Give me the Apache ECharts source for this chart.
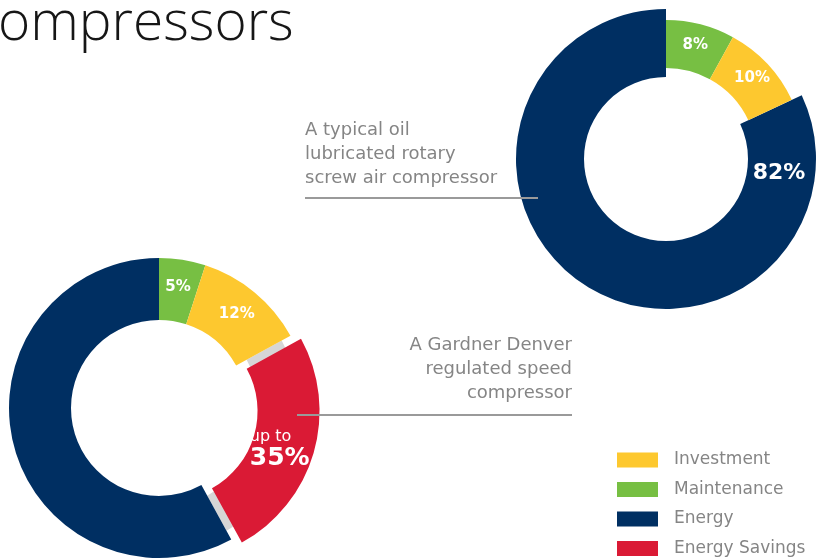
<!DOCTYPE html>
<html>
<head>
<meta charset="utf-8">
<style>
  html, body { margin: 0; padding: 0; background: #fff; }
  #chart { width: 825px; height: 559px; }
</style>
<script src="https://cdn.jsdelivr.net/npm/echarts@6/dist/echarts.min.js"></script>
</head>
<body>
<div id="chart"></div>
<script>
// legend order
const categories = ["Investment", "Maintenance", "Energy", "Energy Savings"];

// typical oil lubricated rotary screw compressor, clockwise from 12 o'clock (%)
const typicalNames = ["Maintenance", "Investment", "Energy"];
const typicalValues = [8, 10, 82];
const typicalLabels = ["8%", "10%", "82%"];

// Gardner Denver regulated speed compressor, clockwise from 12 o'clock (%)
const gdNames = ["Maintenance", "Investment", "Energy Savings", "Energy"];
const gdValues = [5, 12, 25, 58];
const gdLabels = ["5%", "12%", "35%", ""];

const colors = {
  "Investment": "#fdc82f",
  "Maintenance": "#77bf43",
  "Energy": "#002f62",
  "Energy Savings": "#da1a35"
};
const GAP_GRAY = "#d6d6d6";
const FONT = "DejaVu Sans";
const TEXT_GRAY = "#858585";

const chart = echarts.init(document.getElementById("chart"));

// build pie data, only colouring the names in `show`
function pieData(names, values, show, colorOf) {
  return names.map((n, i) => ({
    name: n,
    value: values[i],
    itemStyle: { color: show.indexOf(n) >= 0 ? (colorOf ? colorOf(n) : colors[n]) : "rgba(0,0,0,0)" }
  }));
}

const gdMain = gdNames.map((n, i) => {
  const item = { name: n, value: gdValues[i], itemStyle: { color: colors[n] } };
  if (n === "Energy Savings") {
    item.selected = true;
    item.label = { formatter: "{a|up to}\n{b|" + gdLabels[i] + "}" };
  }
  return item;
});

const baseLabel = {
  show: true,
  position: "inside",
  color: "#fff",
  fontFamily: FONT,
  fontWeight: "bold",
  fontSize: 15
};

const option = {
  animation: false,
  backgroundColor: "#fff",
  legend: {
    data: categories,
    orient: "vertical",
    left: 617,
    top: 451,
    padding: 0,
    icon: "rect",
    itemWidth: 41,
    itemHeight: 15,
    itemGap: 11.5,
    selectedMode: false,
    textStyle: {
      color: TEXT_GRAY,
      fontFamily: FONT,
      fontSize: 17,
      lineHeight: 18,
      padding: [0, 0, 0, 11]
    }
  },
  series: [
    {
      name: "Gardner Denver",
      type: "pie",
      center: [159, 408],
      radius: [88, 150],
      startAngle: 90,
      z: 3,
      selectedMode: "single",
      selectedOffset: 11,
      avoidLabelOverlap: false,
      label: Object.assign({}, baseLabel, {
        formatter: p => gdLabels[p.dataIndex],
        rich: {
          a: { color: "#fff", fontFamily: FONT, fontWeight: "normal", fontSize: 16, lineHeight: 22, align: "left", padding: [14, 0, 0, 0] },
          b: { color: "#fff", fontFamily: FONT, fontWeight: "bold", fontSize: 25, lineHeight: 30, align: "left", padding: [4, 14, 0, 0] }
        }
      }),
      labelLine: { show: false },
      emphasis: { disabled: true },
      data: gdMain
    },
    {
      name: "gap",
      type: "pie",
      center: [159, 408],
      radius: [100, 140],
      startAngle: 90,
      z: 2,
      silent: true,
      label: { show: false },
      labelLine: { show: false },
      emphasis: { disabled: true },
      data: pieData(gdNames, gdValues, ["Energy Savings"], () => GAP_GRAY)
    },
    {
      name: "Typical energy",
      type: "pie",
      center: [666, 159],
      radius: [82, 150],
      startAngle: 90,
      z: 2,
      silent: true,
      label: { show: false },
      labelLine: { show: false },
      emphasis: { disabled: true },
      data: pieData(typicalNames, typicalValues, ["Energy"])
    },
    {
      name: "Typical",
      type: "pie",
      center: [666, 159],
      radius: [91, 139],
      startAngle: 90,
      z: 3,
      silent: true,
      avoidLabelOverlap: false,
      label: Object.assign({}, baseLabel, {
        formatter: p => (p.name === "Energy" ? "" : typicalLabels[p.dataIndex])
      }),
      labelLine: { show: false },
      emphasis: { disabled: true },
      data: pieData(typicalNames, typicalValues, ["Maintenance", "Investment"])
    }
  ],
  graphic: [
    {
      type: "text", left: -2, top: -3, z: 10,
      style: { text: "ompressors", fill: "#161616", font: "300 55px 'Open Sans'" }
    },
    {
      type: "text", x: 779, y: 173, z: 10,
      style: {
        text: typicalLabels[2], fill: "#fff", font: "bold 22px 'DejaVu Sans'",
        textAlign: "center", textVerticalAlign: "middle"
      }
    },
    {
      type: "text", x: 305, y: 118, z: 10,
      style: {
        text: "A typical oil\nlubricated rotary\nscrew air compressor",
        fill: TEXT_GRAY, font: "18px 'DejaVu Sans'", lineHeight: 24
      }
    },
    {
      type: "line", z: 10,
      shape: { x1: 305, y1: 198, x2: 538, y2: 198 },
      style: { stroke: "#9a9a9a", lineWidth: 2 }
    },
    {
      type: "text", x: 572, y: 333, z: 10,
      style: {
        text: "A Gardner Denver\nregulated speed\ncompressor",
        fill: TEXT_GRAY, font: "18px 'DejaVu Sans'", lineHeight: 24, textAlign: "right"
      }
    },
    {
      type: "line", z: 10,
      shape: { x1: 297, y1: 415, x2: 572, y2: 415 },
      style: { stroke: "#9a9a9a", lineWidth: 2 }
    }
  ]
};

chart.setOption(option);
</script>
</body>
</html>
